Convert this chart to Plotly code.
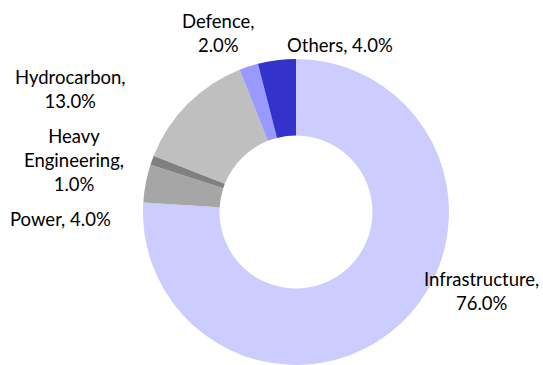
import plotly.graph_objects as go

categories = ["Infrastructure", "Power", "Heavy Engineering", "Hydrocarbon", "Defence", "Others"]
values = [76.0, 4.0, 1.0, 13.0, 2.0, 4.0]
colors = ["#CCCCFF", "#A6A6A6", "#808080", "#BFBFBF", "#9999FF", "#3333CC"]

# label text wrapping (display only)
label_lines = {
    "Infrastructure": "Infrastructure,<br>{v}",
    "Power": "Power, {v}",
    "Heavy Engineering": "Heavy<br>Engineering,<br>{v}",
    "Hydrocarbon": "Hydrocarbon,<br>{v}",
    "Defence": "Defence,<br>{v}",
    "Others": "Others, {v}",
}
# label anchor positions in pixels (x center, y center)
label_pos = {
    "Infrastructure": (481, 291),
    "Power": (60, 219),
    "Heavy Engineering": (74, 160),
    "Hydrocarbon": (70, 89),
    "Defence": (218, 33),
    "Others": (340, 45),
}

W, H = 543, 365

fig = go.Figure(go.Pie(
    labels=categories,
    values=values,
    marker=dict(colors=colors, line=dict(width=0)),
    hole=0.5,
    sort=False,
    direction="clockwise",
    rotation=0,
    textinfo="none",
    showlegend=False,
    domain=dict(x=[143 / W, 449 / W], y=[0, 1 - 59 / H]),
))

for c, v in zip(categories, values):
    px, py = label_pos[c]
    fig.add_annotation(
        x=px / W, y=1 - py / H, xref="paper", yref="paper",
        text=label_lines[c].format(v=f"{v:.1f}%"),
        showarrow=False, xanchor="center", yanchor="middle",
        font=dict(family="Lato", size=18.5, color="#000000"),
    )

fig.update_layout(
    width=W, height=H,
    margin=dict(l=0, r=0, t=0, b=0),
    paper_bgcolor="white", plot_bgcolor="white",
)

fig.write_html("out.html")
